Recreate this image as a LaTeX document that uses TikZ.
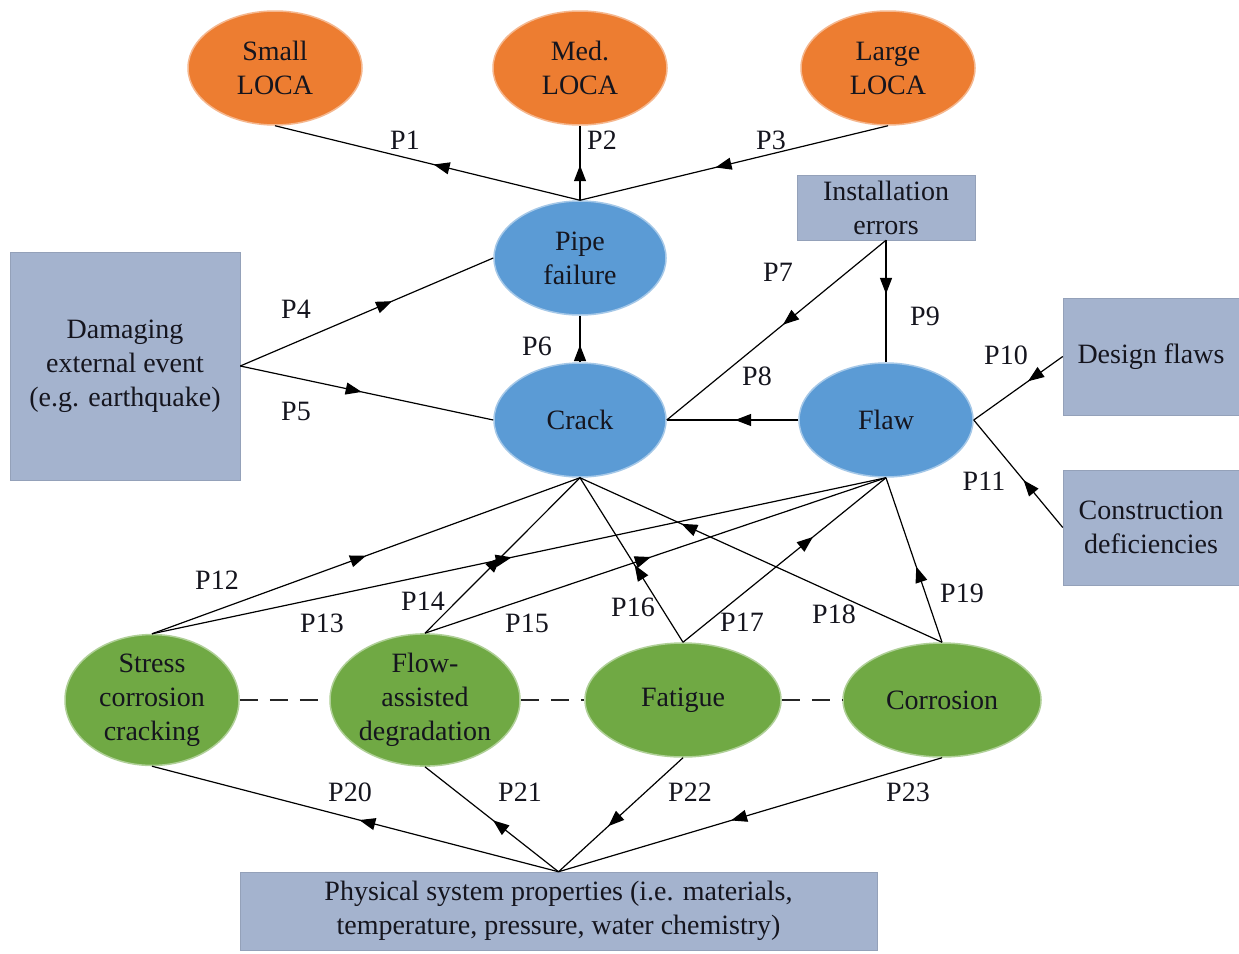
\documentclass[tikz,border=0pt]{standalone}
\usepackage{fontspec}
\setmainfont{Liberation Serif}
\usetikzlibrary{shapes.geometric,arrows.meta,decorations.markings}
\definecolor{orangeN}{HTML}{ED7D31}
\definecolor{blueN}{HTML}{5B9BD5}
\definecolor{greenN}{HTML}{70A944}
\definecolor{boxN}{HTML}{A4B3CE}
\definecolor{inkN}{HTML}{15151E}
\begin{document}
\begin{tikzpicture}[x=1pt,y=-1pt,
  font=\rmfamily\fontsize{28}{34}\selectfont,
  every node/.style={align=center, inner sep=0pt, text=inkN},
  lossell/.style={ellipse, fill=orangeN, draw=orangeN!55!white, line width=1.5pt, minimum width=174pt, minimum height=114pt},
  stateell/.style={ellipse, fill=blueN, draw=blueN!55!white, line width=1.5pt, minimum width=172pt, minimum height=114pt},
  mechell/.style={ellipse, fill=greenN, draw=greenN!55!white, line width=1.5pt, minimum height=114pt},
  causebox/.style={rectangle, fill=boxN, draw=boxN!90!black, line width=0.5pt},
  conn/.style={draw=black, line width=1.2pt},
  midarrow/.style={postaction={decorate, decoration={markings,
      mark=at position #1 with {\arrow{Triangle[length=16pt,width=12pt]}}}}},
  plabel/.style={inner sep=0pt},
  linkdash/.style={draw=black!85, line width=1.3pt, dash pattern=on 18pt off 12pt}]

\useasboundingbox (0,0) rectangle (1239,953);
\fill[white] (0,0) rectangle (1239,953);

% loss-of-coolant outcomes
\node[lossell] (small) at (275,68) {Small\\LOCA};
\node[lossell] (med)   at (580,68) {Med.\\LOCA};
\node[lossell] (large) at (888,68) {Large\\LOCA};

% pipe states
\node[stateell] (pipe)  at (580,258) {Pipe\\failure};
\node[stateell] (crack) at (580,420) {Crack};
\node[stateell, minimum width=174pt] (flaw) at (886,420) {Flaw};

% root causes
\node[causebox, minimum width=178pt, minimum height=65pt] (install) at (886,207.5) {Installation\\errors};
\node[causebox, minimum width=230pt, minimum height=228pt] (damage) at (125,366) {Damaging\\external event\\(e.g. earthquake)};
\node[causebox, minimum width=176pt, minimum height=117pt] (design) at (1151,356.5) {Design flaws};
\node[causebox, minimum width=176pt, minimum height=115pt] (constr) at (1151,527.5) {Construction\\deficiencies};
\node[causebox, minimum width=637pt, minimum height=78pt] (phys) at (558.5,911) {Physical system properties (i.e. materials,\\temperature, pressure, water chemistry)};

% degradation mechanisms
\node[mechell, minimum width=174pt] (scc)  at (152,700) {Stress\\corrosion\\cracking};
\node[mechell, minimum width=190pt] (fad)  at (425,700) {Flow-\\assisted\\degradation};
\node[mechell, minimum width=196pt] (fat)  at (683,700) {Fatigue};
\node[mechell, minimum width=198pt] (corr) at (942,700) {Corrosion};

% mechanism links
\draw[linkdash] (scc.east) -- (fad.west);
\draw[linkdash] (fad.east) -- (fat.west);
\draw[linkdash] (fat.east) -- (corr.west);

% connectors, each drawn in the sense of its arrowhead
\draw[conn, midarrow=0.48] (pipe.north) -- (small.south);
\draw[conn, midarrow=0.47] (pipe.north) -- (med.south);
\draw[conn, midarrow=0.56] (large.south) -- (pipe.north);
\draw[conn, midarrow=0.60] (damage.east) -- (pipe.west);
\draw[conn, midarrow=0.48] (damage.east) -- (crack.west);
\draw[conn, midarrow=0.37] (crack.north) -- (pipe.south);
\draw[conn, midarrow=0.47] (install.south) -- (crack.east);
\draw[conn, midarrow=0.48] (flaw.west) -- (crack.east);
\draw[conn, midarrow=0.44] (install.south) -- (flaw.north);
\draw[conn, midarrow=0.39] (design.west) -- (flaw.east);
\draw[conn, midarrow=0.44] (constr.west) -- (flaw.east);

\draw[conn, midarrow=0.50] (scc.north) -- (crack.south);
\draw[conn, midarrow=0.49] (scc.north) -- (flaw.south);
\draw[conn, midarrow=0.49] (fad.north) -- (crack.south);
\draw[conn, midarrow=0.49] (fad.north) -- (flaw.south);
\draw[conn, midarrow=0.47] (fat.north) -- (crack.south);
\draw[conn, midarrow=0.64] (fat.north) -- (flaw.south);
\draw[conn, midarrow=0.72] (corr.north) -- (crack.south);
\draw[conn, midarrow=0.46] (corr.north) -- (flaw.south);

\draw[conn, midarrow=0.49] (phys.north) -- (scc.south);
\draw[conn, midarrow=0.49] (phys.north) -- (fad.south);
\draw[conn, midarrow=0.60] (fat.south) -- (phys.north);
\draw[conn, midarrow=0.55] (corr.south) -- (phys.north);

% path labels
\node[plabel] (l1)  at (405,140) {P1};
\node[plabel] (l2)  at (602,140) {P2};
\node[plabel] (l3)  at (771,140) {P3};
\node[plabel] (l4)  at (296,309) {P4};
\node[plabel] (l5)  at (296,411) {P5};
\node[plabel] (l6)  at (537,346) {P6};
\node[plabel] (l7)  at (778,272) {P7};
\node[plabel] (l8)  at (757,376) {P8};
\node[plabel] (l9)  at (925,316) {P9};
\node[plabel] (l10) at (1006,355) {P10};
\node[plabel] (l11) at (984,481) {P11};
\node[plabel] (l12) at (217,580) {P12};
\node[plabel] (l13) at (322,623) {P13};
\node[plabel] (l14) at (423,601) {P14};
\node[plabel] (l15) at (527,623) {P15};
\node[plabel] (l16) at (633,607) {P16};
\node[plabel] (l17) at (742,622) {P17};
\node[plabel] (l18) at (834,614) {P18};
\node[plabel] (l19) at (962,593) {P19};
\node[plabel] (l20) at (350,792) {P20};
\node[plabel] (l21) at (520,792) {P21};
\node[plabel] (l22) at (690,792) {P22};
\node[plabel] (l23) at (908,792) {P23};
\end{tikzpicture}
\end{document}
